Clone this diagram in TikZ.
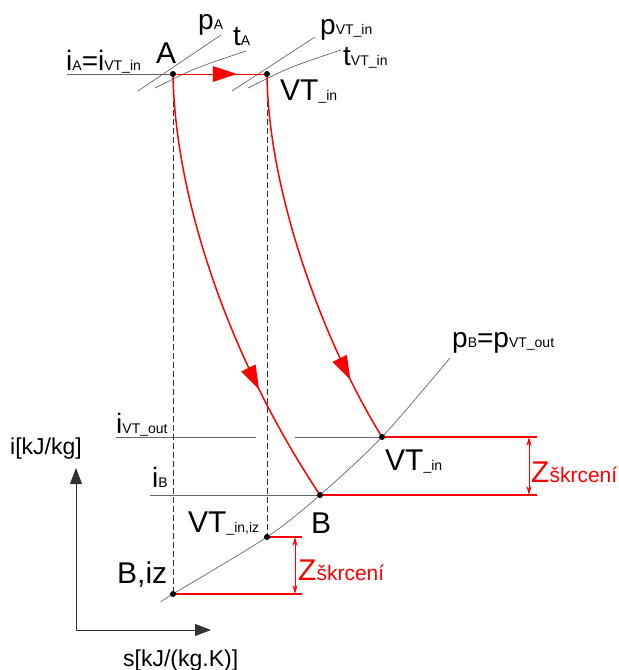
\documentclass[tikz,border=0pt]{standalone}
\usepackage{fontspec}
\setmainfont{Liberation Sans}
\usetikzlibrary{arrows.meta,decorations.markings}

% big letter with small index, as in the drawing
\newcommand{\bigidx}[2]{{\fontsize{30}{30}\selectfont #1}{\fontsize{14}{14}\selectfont #2}}
\newcommand{\symidx}[2]{{\fontsize{28}{28}\selectfont #1}{\fontsize{14}{14}\selectfont #2}}
\newcommand{\zlabel}{{\fontsize{30}{30}\selectfont Z}{\fontsize{21}{21}\selectfont škrcení}}

\tikzset{
  isoline/.style={draw=black!60, line width=0.7pt},
  proc/.style={red, line width=1.5pt},
  dashv/.style={black!80, line width=0.6pt, dash pattern=on 6pt off 3pt},
  lbl/.style={anchor=base west, inner sep=0pt},
  midarrow/.style 2 args={postaction={decorate},
    decoration={markings, mark=at position #1 with {\arrow{Triangle[length=#2,width=0.65*#2]}}}},
  dimarrow/.style={red, line width=0.8pt, {Stealth[length=9pt,width=5pt]}-{Stealth[length=9pt,width=5pt]}},
  axisarrow/.style={black!80, line width=0.8pt, -{Triangle[length=16pt,width=12pt]}}
}

\begin{document}
\begin{tikzpicture}[x=1pt,y=-1pt]
  \useasboundingbox (0,0) rectangle (619,670);
  % state points
  \coordinate (A) at (173,74);
  \coordinate (VTin) at (267,74);
  \coordinate (B) at (320,495);
  \coordinate (VTout) at (382,437);
  \coordinate (VTiz) at (267,537);
  \coordinate (Biz) at (173,594);
  \coordinate (O) at (76,630);

  % isobars and isotherms at the inlet
  \draw[isoline] (67,74) -- (A);
  \draw[isoline] (138,91) -- (221,35);
  \draw[isoline] (155,88) .. controls (195,68) .. (246,51);
  \draw[isoline] (232,91) -- (315,37);
  \draw[isoline] (248,88) .. controls (290,67) .. (341,50);

  % outlet isobar
  \draw[isoline] plot[smooth] coordinates {(162,601) (Biz) (VTiz) (B) (VTout) (450,358)};

  % enthalpy levels
  \draw[isoline] (116,437) -- (256,437);
  \draw[isoline] (295,437) -- (VTout);
  \draw[isoline] (150,495) -- (B);

  % isentropic references
  \draw[dashv] (A) -- (Biz);
  \draw[dashv] (VTin) -- (VTiz);

  % throttling and expansion
  \draw[red, line width=1pt, midarrow={0.68}{24pt}] (A) -- (VTin);
  \draw[proc, midarrow={0.73}{24pt}] (A) .. controls (175,200) and (230,360) .. (B);
  \draw[proc, midarrow={0.83}{24pt}] (VTin) .. controls (268,190) and (322,340) .. (VTout);

  % losses
  \draw[proc] (VTout) -- (537,437);
  \draw[proc] (B) -- (537,495);
  \draw[dimarrow] (529,437) -- (529,495);
  \draw[proc] (VTiz) -- (302,537);
  \draw[proc] (Biz) -- (302,594);
  \draw[dimarrow] (295,537) -- (295,594);

  \foreach \p in {A,VTin,B,VTout,VTiz,Biz}
    \fill (\p) circle[radius=3pt];

  % axes
  \draw[axisarrow] (O) -- (76,468);
  \draw[axisarrow] (O) -- (211,630);
  \node[lbl] (iax) at (10,454) {\fontsize{23}{23}\selectfont i[kJ/kg]};
  \node[lbl] (sax) at (123,666) {\fontsize{23}{23}\selectfont s[kJ/(kg.K)]};

  % labels
  \node[lbl] (lA) at (156,63) {\fontsize{30}{30}\selectfont A};
  \node[lbl] (lVTin) at (280,100) {\bigidx{VT}{\_in}};
  \node[lbl] (lVTout) at (385,470) {\bigidx{VT}{\_in}};
  \node[lbl] (lB) at (311,533) {\fontsize{30}{30}\selectfont B};
  \node[lbl] (lVTiz) at (188,532) {\bigidx{VT}{\_in,iz}};
  \node[lbl] (lBiz) at (117,583) {\fontsize{30}{30}\selectfont B,iz};
  \node[lbl] (lpA) at (198,29) {\symidx{p}{A}};
  \node[lbl] (ltA) at (233,45) {\symidx{t}{A}};
  \node[lbl] (lpVT) at (320,34) {\symidx{p}{VT\_in}};
  \node[lbl] (ltVT) at (343,65) {\symidx{t}{VT\_in}};
  \node[lbl] (liA) at (66,70) {\symidx{i}{A}{\fontsize{28}{28}\selectfont =}\symidx{i}{VT\_in}};
  \node[lbl] (liVT) at (116,433) {\symidx{i}{VT\_out}};
  \node[lbl] (liB) at (152,487) {\symidx{i}{B}};
  \node[lbl] (lpB) at (452,347) {\symidx{p}{B}{\fontsize{28}{28}\selectfont =}\symidx{p}{VT\_out}};
  \node[lbl, red] (lz1) at (531,482) {\zlabel};
  \node[lbl, red] (lz2) at (298,580) {\zlabel};
\end{tikzpicture}
\end{document}
